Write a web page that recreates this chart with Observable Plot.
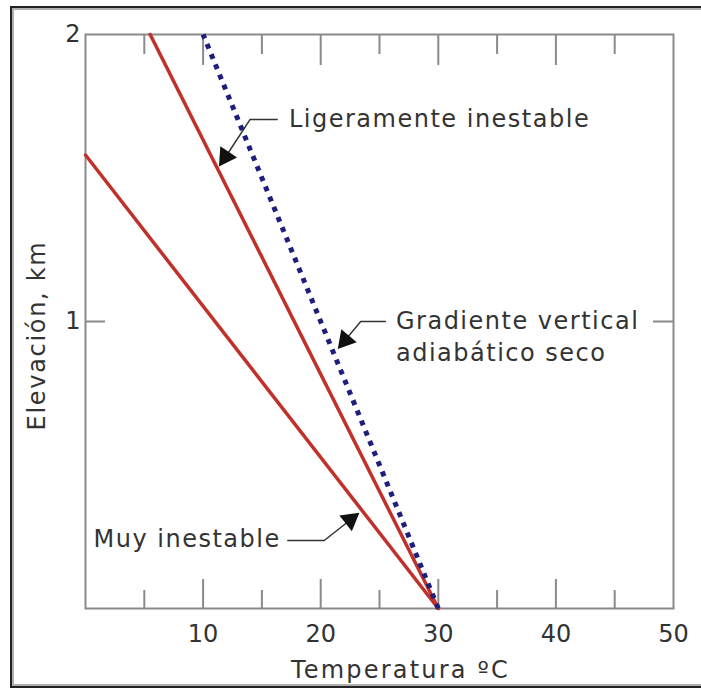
<!DOCTYPE html>
<html><head><meta charset="utf-8">
<script src="https://cdn.jsdelivr.net/npm/d3@7"></script>
<script src="https://cdn.jsdelivr.net/npm/@observablehq/plot@0.6"></script>
<style>
body{margin:0;background:#fff;}
#wrap{position:relative;width:701px;height:691px;overflow:hidden;}
#border{position:absolute;left:10px;top:6px;width:720px;height:678px;border:2px solid #222;box-shadow:inset 2px 2px 0 #b0b0b0, inset -2px -2px 0 #b0b0b0;pointer-events:none;}
#chart svg{display:block;}
</style></head><body>
<div id="wrap"><div id="chart"></div><div id="border"></div></div>
<script>
// Axis ticks
const xTickLabels = [10, 20, 30, 40, 50];
const xMajorTicks = [10, 20, 30, 40];
const xMinorTicks = [5, 15, 25, 35, 45];
const yTickLabels = [1, 2];
const yTicks = [1];

// Axis titles
const yTitle = "Elevación, km";
const xTitle = "Temperatura ºC";

// Profiles (temperature °C vs elevation km)
const profileNames = ["Ligeramente inestable", "Muy inestable", "Gradiente vertical adiabático seco"];
const profileT0 = [30, 30, 30];
const profileZ0 = [0, 0, 0];
const profileT1 = [5.5, 0, 10];
const profileZ1 = [2, 1.58, 2];

// Annotation labels
const labelTexts = ["Ligeramente inestable", "Gradiente vertical", "adiabático seco", "Muy inestable"];
const labelT = [17.3, 26.4, 26.4, 0.68];
const labelZ = [1.705, 1.0, 0.889, 0.24];

// Leader lines (three points each)
const leaderId = [0,0,0, 1,1,1, 2,2,2];
const leaderT = [16.3, 14.0, 11.6,  25.5, 23.4, 21.7,  17.2, 20.3, 23.0];
const leaderZ = [1.704, 1.704, 1.554,  1.0, 1.0, 0.916,  0.237, 0.237, 0.324];

// Arrow heads
const headT = [11.9, 22.09, 22.51];
const headZ = [1.574, 0.935, 0.309];
const headAngle = [-146, -140, 52];

const W = 701, H = 691;
const mL = 85, mR = 28, mT = 34, mB = 83;
const plotW = W - mL - mR, plotH = H - mT - mB;

const profiles = profileNames.flatMap((n, i) => [
  {name: n, t: profileT0[i], z: profileZ0[i]},
  {name: n, t: profileT1[i], z: profileZ1[i]}
]);
const labels = labelTexts.map((s, i) => ({s, t: labelT[i], z: labelZ[i]}));
const leaders = leaderId.map((id, i) => ({id, t: leaderT[i], z: leaderZ[i]}));
const heads = headT.map((t, i) => ({t, z: headZ[i], a: headAngle[i]}));

const font = "DejaVu Sans, Verdana, sans-serif";
const ink = "#333";
const gray = "#8a8a8a";

const chart = Plot.plot({
  width: W, height: H,
  marginLeft: mL, marginRight: mR, marginTop: mT, marginBottom: mB,
  style: {fontFamily: font, fontSize: "24px", color: ink, background: "transparent"},
  x: {domain: [0, 50]},
  y: {domain: [0, 2]},
  marks: [
    Plot.frame({stroke: gray, strokeWidth: 2}),
    Plot.tickX(xMajorTicks, {x: d => d, stroke: gray, strokeWidth: 2, insetTop: plotH - 29}),
    Plot.tickX(xMinorTicks, {x: d => d, stroke: gray, strokeWidth: 2, insetTop: plotH - 18}),
    Plot.tickX(xMajorTicks, {x: d => d, stroke: gray, strokeWidth: 2, insetBottom: plotH - 31}),
    Plot.tickX(xMinorTicks, {x: d => d, stroke: gray, strokeWidth: 2, insetBottom: plotH - 20}),
    Plot.tickY(yTicks, {y: d => d, stroke: gray, strokeWidth: 2, insetRight: plotW - 20}),
    Plot.tickY(yTicks, {y: d => d, stroke: gray, strokeWidth: 2, insetLeft: plotW - 20}),
    Plot.axisX(xTickLabels, {tickSize: 0, tickPadding: 16, label: null, fill: ink, fontSize: 24}),
    Plot.axisY(yTickLabels, {tickSize: 0, tickPadding: 5, label: null, fill: ink, fontSize: 24, tickFormat: d => String(d)}),
    Plot.line(profiles.filter(d => d.name !== profileNames[2]), {x: "t", y: "z", z: "name", stroke: "#c0312b", strokeWidth: 3.5}),
    Plot.line(profiles.filter(d => d.name === profileNames[2]), {x: "t", y: "z", stroke: "#1e1e7c", strokeWidth: 5, strokeDasharray: "5,6", strokeLinecap: "butt"}),
    Plot.line(leaders, {x: "t", y: "z", z: "id", stroke: "#333", strokeWidth: 1.5}),
    Plot.dot(heads, {x: "t", y: "z", symbol: "triangle", r: 7.5, fill: "#111", stroke: "none", rotate: "a"}),
    Plot.text(labels, {x: "t", y: "z", text: "s", textAnchor: "start", fill: ink, fontSize: 24}),
    Plot.text([yTitle], {frameAnchor: "left", textAnchor: "middle", lineAnchor: "middle", dx: -48, dy: 14, rotate: -90, fill: ink, fontSize: 24}),
    Plot.text([xTitle], {frameAnchor: "bottom", textAnchor: "middle", lineAnchor: "bottom", dx: 21, dy: 69, fill: ink, fontSize: 24})
  ]
});
const spacing = new Map([...labelTexts.map(s => [s, "1.5px"]), [yTitle, "1.7px"], [xTitle, "2.2px"]]);
d3.select(chart).selectAll("text").each(function() {
  const ls = spacing.get(this.textContent);
  if (ls) this.style.letterSpacing = ls;
});
document.getElementById("chart").appendChild(chart);
</script>
</body></html>
